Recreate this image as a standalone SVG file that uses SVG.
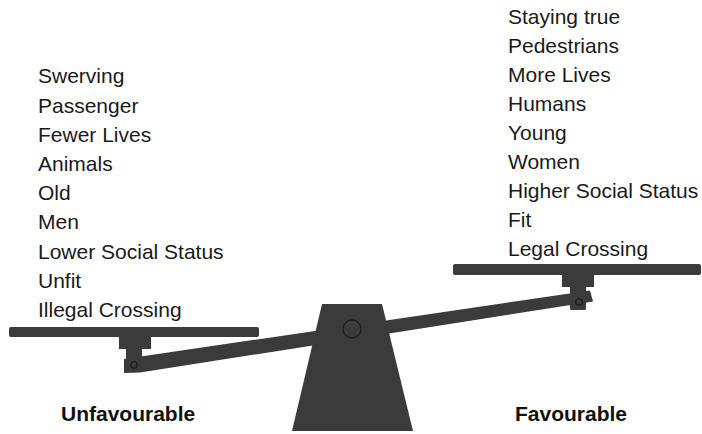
<svg xmlns="http://www.w3.org/2000/svg" width="702" height="434" viewBox="0 0 702 434">
<style>
.t{font-family:"Liberation Sans",Arial,sans-serif;font-size:21px;fill:#1a1a1a}
.b{font-family:"Liberation Sans",Arial,sans-serif;font-size:21px;font-weight:bold;fill:#111}
.s{fill:#3b3b3b}
.pin{fill:none;stroke:#222;stroke-width:1.5}
</style>
<rect width="702" height="434" fill="#fff"/>
<g id="scale">
<path class="s" d="M124,359 L590,290.5 L593,301.5 L140,372.5 L124,373 Z"/>
<rect class="s" x="9" y="327" width="250" height="10" rx="2"/>
<rect class="s" x="119" y="336" width="32" height="13"/>
<rect class="s" x="126" y="348" width="16" height="17"/>
<circle class="pin" cx="134" cy="365" r="3.2"/>
<rect class="s" x="453" y="264" width="248" height="11" rx="2"/>
<rect class="s" x="562" y="274" width="32" height="13"/>
<rect class="s" x="570" y="286" width="16" height="24" rx="1.5"/>
<circle class="pin" cx="579" cy="302" r="3.2"/>
<path class="s" d="M322,304 L382,304 L413,431 L292,431 Z"/>
<circle class="pin" cx="352" cy="329" r="9"/>
</g>
<g id="unfavourable-list">
<text class="t" x="38" y="83.3">Swerving</text>
<text class="t" x="38" y="112.5">Passenger</text>
<text class="t" x="38" y="141.7">Fewer Lives</text>
<text class="t" x="38" y="170.9">Animals</text>
<text class="t" x="38" y="200.1">Old</text>
<text class="t" x="38" y="229.3">Men</text>
<text class="t" x="38" y="258.5">Lower Social Status</text>
<text class="t" x="38" y="287.7">Unfit</text>
<text class="t" x="38" y="316.9">Illegal Crossing</text>
</g>
<g id="favourable-list">
<text class="t" x="508" y="24">Staying true</text>
<text class="t" x="508" y="53">Pedestrians</text>
<text class="t" x="508" y="82">More Lives</text>
<text class="t" x="508" y="111">Humans</text>
<text class="t" x="508" y="140">Young</text>
<text class="t" x="508" y="169">Women</text>
<text class="t" x="508" y="198">Higher Social Status</text>
<text class="t" x="508" y="227">Fit</text>
<text class="t" x="508" y="256">Legal Crossing</text>
</g>
<g id="labels">
<text class="b" x="61" y="420.5">Unfavourable</text>
<text class="b" x="515" y="420.5">Favourable</text>
</g>
</svg>
